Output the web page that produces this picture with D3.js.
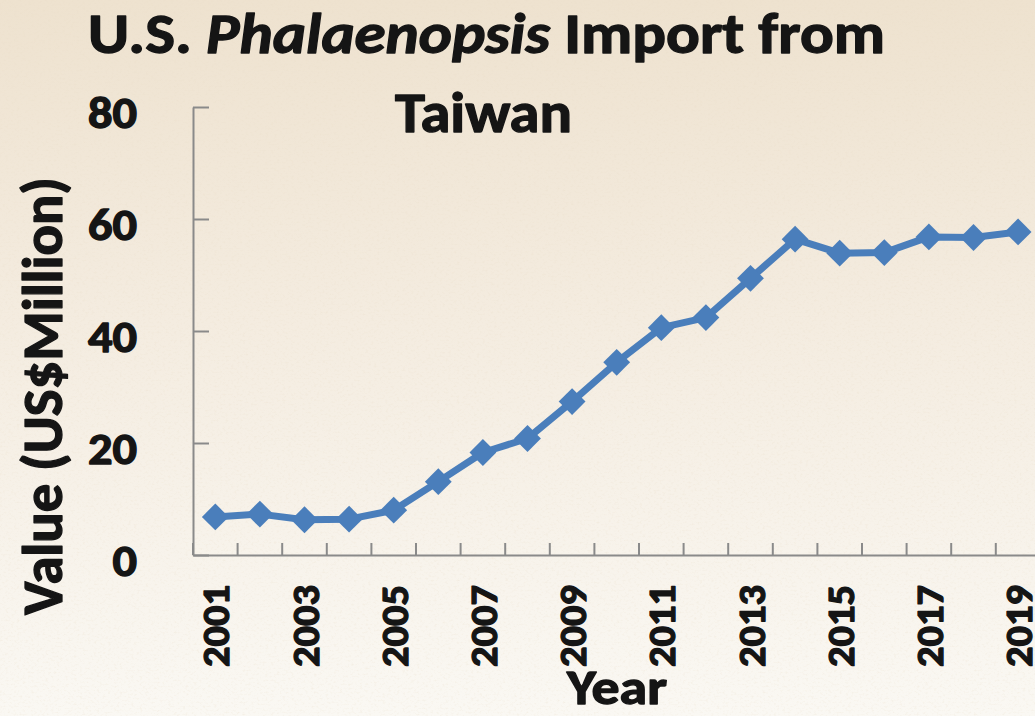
<!DOCTYPE html>
<html>
<head>
<meta charset="utf-8">
<script src="https://cdn.jsdelivr.net/npm/d3@7"></script>
<style>
  html, body { margin: 0; padding: 0; background: #f5eee3; overflow: hidden; }
  svg { display: block; }
  text { font-family: Carlito, Lato, "Open Sans", sans-serif; font-weight: 900; fill: #151515;
         stroke: #151515; stroke-width: 1.3px; stroke-linejoin: round; }
</style>
</head>
<body>
<svg id="chart" width="1035" height="716"></svg>
<script>
// ---- data ----
const years = ["2001","2002","2003","2004","2005","2006","2007","2008","2009","2010",
               "2011","2012","2013","2014","2015","2016","2017","2018","2019"];
const values = [6.8, 7.3, 6.3, 6.4, 8.0, 13.1, 18.3, 20.8, 27.4, 34.4,
                40.6, 42.4, 49.4, 56.4, 53.9, 54.0, 56.8, 56.7, 57.7];
const yTicks = [0, 20, 40, 60, 80];
const xLabelYears = ["2001","2003","2005","2007","2009","2011","2013","2015","2017","2019"];
const titleParts = [
  {text: "U.S. ", italic: false},
  {text: "Phalaenopsis", italic: true},
  {text: " Import from", italic: false}
];
const titleLine2 = "Taiwan";
const yLabel = "Value (US$Million)";
const xLabel = "Year";

// ---- layout ----
const W = 1035, H = 716;
const axisX = 193, axisBottom = 555, axisTop = 107;
const bandW = 44.6;

const svg = d3.select("#chart");
const defs = svg.append("defs");

// background gradient + paper texture
const grad = defs.append("linearGradient").attr("id", "bg").attr("x1", 0).attr("y1", 0).attr("x2", 0).attr("y2", 1);
grad.append("stop").attr("offset", "0%").attr("stop-color", "#eee2cf");
grad.append("stop").attr("offset", "45%").attr("stop-color", "#f4ece0");
grad.append("stop").attr("offset", "100%").attr("stop-color", "#faf8f3");

const filt = defs.append("filter").attr("id", "paper").attr("x", 0).attr("y", 0).attr("width", "100%").attr("height", "100%");
filt.append("feTurbulence").attr("type", "fractalNoise").attr("baseFrequency", "0.35 0.5").attr("numOctaves", 3).attr("seed", 7).attr("result", "n");
filt.append("feColorMatrix").attr("in", "n").attr("type", "matrix")
  .attr("values", "0 0 0 0 0.80  0 0 0 0 0.70  0 0 0 0 0.55  1.6 0 0 0 -0.80");

svg.append("rect").attr("width", W).attr("height", H).attr("fill", "url(#bg)");
svg.append("rect").attr("width", W).attr("height", H).attr("filter", "url(#paper)").attr("opacity", 0.4);

// ---- scales ----
const x = d3.scaleBand().domain(years).range([axisX, axisX + bandW * years.length]).paddingInner(0).paddingOuter(0);
const y = d3.scaleLinear().domain([0, 80]).range([axisBottom, axisTop]);
const cx = d => x(d) + x.bandwidth() / 2;

function fit(sel, len) {
  sel.attr("textLength", len).attr("lengthAdjust", "spacingAndGlyphs");
}

// ---- y axis ----
const gy = svg.append("g").attr("transform", `translate(${axisX},0)`)
  .call(d3.axisLeft(y).tickValues(yTicks).tickSizeInner(-16).tickSizeOuter(0).tickPadding(56));
gy.select(".domain").attr("stroke", "#8a8a8a").attr("stroke-width", 2);
gy.selectAll(".tick line").attr("stroke", "#8a8a8a").attr("stroke-width", 2);
gy.selectAll(".tick text")
  .attr("dy", "20px")
  .style("font-family", "Carlito, Lato, 'Open Sans', sans-serif")
  .style("font-weight", "900")
  .style("font-size", "44px")
  .attr("fill", "#151515")
  .attr("stroke", "#151515").attr("stroke-width", 1.3)
  .each(function(d) { d3.select(this).call(fit, String(d).length * 24.5); });

// ---- x axis ----
const gx = svg.append("g").attr("transform", `translate(0,${axisBottom})`)
  .call(d3.axisBottom(x).tickSize(0).tickFormat(""));
gx.select(".domain").attr("stroke", "#8a8a8a").attr("stroke-width", 2);
gx.selectAll(".tick").remove();
// boundary tick marks (pointing up, between categories)
gx.selectAll("line.bt").data(years).join("line").attr("class", "bt")
  .attr("x1", d => x(d)).attr("x2", d => x(d))
  .attr("y1", 0).attr("y2", -12)
  .attr("stroke", "#8a8a8a").attr("stroke-width", 2);

// rotated year labels
svg.append("g").selectAll("text").data(xLabelYears).join("text")
  .attr("transform", d => `translate(${cx(d) + 14},${axisBottom + 30}) rotate(-90)`)
  .attr("text-anchor", "end")
  .style("font-size", "39px")
  .text(d => d)
  .call(fit, 82);

// ---- line + markers ----
const pts = years.map((d, i) => ({year: d, v: values[i]}));
svg.append("path").datum(pts)
  .attr("fill", "none").attr("stroke", "#4a7ebb").attr("stroke-width", 7).attr("stroke-linejoin", "round")
  .attr("d", d3.line().x(d => cx(d.year)).y(d => y(d.v)));

const diamond = d3.symbol().type(d3.symbolSquare).size(360);
svg.append("g").selectAll("path").data(pts).join("path")
  .attr("transform", d => `translate(${cx(d.year)},${y(d.v)}) rotate(45)`)
  .attr("d", diamond)
  .attr("fill", "#4a7ebb");

// ---- titles ----
const t1 = svg.append("text").attr("x", 88).attr("y", 53).style("font-size", "57px");
t1.selectAll("tspan").data(titleParts).join("tspan")
  .style("font-style", d => d.italic ? "italic" : "normal")
  .text(d => d.text);
t1.call(fit, 797);

svg.append("text").attr("x", 395).attr("y", 132).style("font-size", "57px")
  .text(titleLine2).call(fit, 177);

// y axis title
svg.append("text").attr("transform", "translate(62,615) rotate(-90)")
  .attr("text-anchor", "start").style("font-size", "56px")
  .text(yLabel).call(fit, 438);

// x axis title
svg.append("text").attr("x", 567).attr("y", 704).style("font-size", "48px")
  .text(xLabel).call(fit, 100);
</script>
</body>
</html>
